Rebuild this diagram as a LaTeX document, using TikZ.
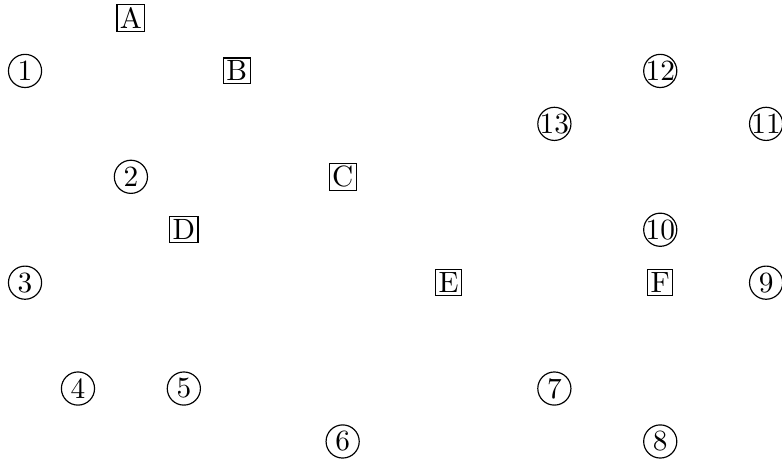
\documentclass[tikz,border=0pt]{standalone}
\usepackage{amsmath, amssymb}
\usepackage{tikz}
\usetikzlibrary{positioning}

\begin{document}
\begin{tikzpicture}[x=0.634cm, y=-0.634cm,
    num/.style={circle, draw, thin, inner sep=0pt, minimum size=11.3pt},
    lbl/.style={draw, thin, inner sep=1pt}]
      \useasboundingbox (-0.473,-0.34) rectangle (14.30,8.397);
      % boxed letters
      \node[lbl] (a) at (2,0) {A};
      \node[lbl] (b) at (4,1) {B};
      \node[lbl] (c) at (6,3) {C};
      \node[lbl] (d) at (3,4) {D};
      \node[lbl] (e) at (8,5) {E};
      \node[lbl] (f) at (12,5) {F};
      % circled numbers
      \node[num] (n1) at (0,1) {\makebox[0pt]{1}};
      \node[num] (n2) at (2,3) {\makebox[0pt]{2}};
      \node[num] (n3) at (0,5) {\makebox[0pt]{3}};
      \node[num] (n4) at (1,7) {\makebox[0pt]{4}};
      \node[num] (n5) at (3,7) {\makebox[0pt]{5}};
      \node[num] (n6) at (6,8) {\makebox[0pt]{6}};
      \node[num] (n7) at (10,7) {\makebox[0pt]{7}};
      \node[num] (n8) at (12,8) {\makebox[0pt]{8}};
      \node[num] (n9) at (14,5) {\makebox[0pt]{9}};
      \node[num] (n10) at (12,4) {\makebox[0pt]{10}};
      \node[num] (n11) at (14,2) {\makebox[0pt]{11}};
      \node[num] (n12) at (12,1) {\makebox[0pt]{12}};
      \node[num] (n13) at (10,2) {\makebox[0pt]{13}};
\end{tikzpicture}
\end{document}
